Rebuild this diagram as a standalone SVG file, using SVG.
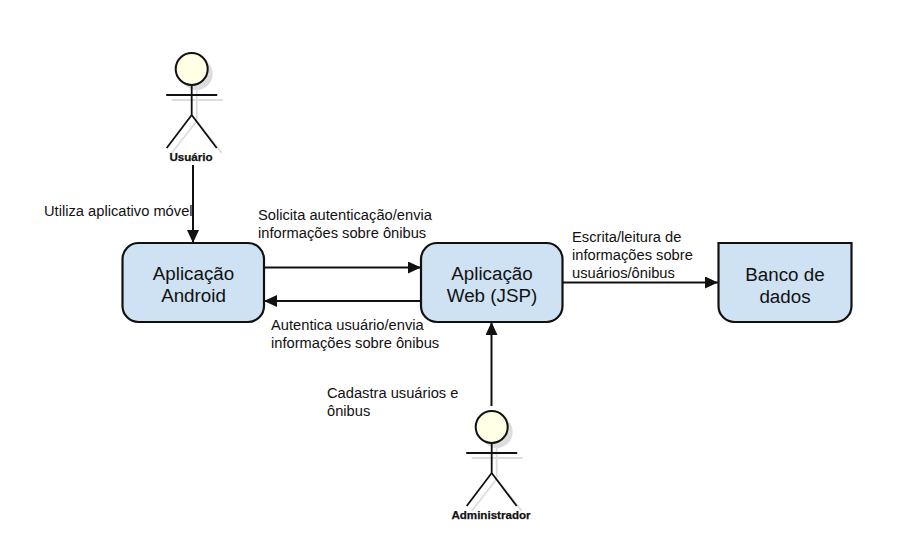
<svg xmlns="http://www.w3.org/2000/svg" width="915" height="537" viewBox="0 0 915 537">
<style>
text{font-family:"Liberation Sans",Arial,sans-serif;fill:#111}
.box{fill:#cfe2f3;stroke:#111;stroke-width:2.2}
.t{font-size:18.8px;text-anchor:middle}
.l{font-size:14.7px}
.a{font-size:11.6px;font-weight:bold;text-anchor:middle;stroke:#111;stroke-width:.25}
.c{fill:none;stroke:#111;stroke-width:2;marker-end:url(#ah)}
.s{fill:none;stroke:#111;stroke-width:1.8}
.sh{fill:none;stroke:#ddd;stroke-width:1.8}
.head{fill:#ffffe6;stroke:#111;stroke-width:2}
</style>
<defs>
<marker id="ah" markerUnits="userSpaceOnUse" markerWidth="14" markerHeight="12" refX="13" refY="6" orient="auto"><path d="M0 0L13 6L0 12Z" fill="#111"/></marker>
<g id="actor">
<circle cx="5" cy="5" r="16" fill="#ddd"/>
<path class="sh" d="M-20 31H31M5 20V52M5 52L-20 84M5 52L30 84"/>
<circle class="head" r="16"/>
<path class="s" d="M-25.500 26H25.500M0 16V46M0 46L-25 79M0 46L25 79"/>
</g>
</defs>
<g id="connectors">
<path class="c" d="M193 165V243"/>
<path class="c" d="M264 267.500H421"/>
<path class="c" d="M421 301H264"/>
<path class="c" d="M563 282.500H718"/>
<path class="c" d="M491.500 406V322"/>
</g>
<g id="usuario"><use href="#actor" x="191.700" y="69"/><text class="a" x="191" y="161">Usuário</text></g>
<g id="administrador"><use href="#actor" x="491.700" y="427"/><text class="a" x="491" y="519">Administrador</text></g>
<g id="android"><rect class="box" x="122.500" y="243" width="141.500" height="79" rx="16"/><text class="t" x="193.500" y="280">Aplicação</text><text class="t" x="193.500" y="302">Android</text></g>
<g id="web"><rect class="box" x="421" y="243" width="141.500" height="79" rx="16"/><text class="t" x="492" y="280">Aplicação</text><text class="t" x="492" y="302">Web (JSP)</text></g>
<g id="banco"><path class="box" d="M718.500 243H851.500V306A16 16 0 0 1 835.500 322H734.500A16 16 0 0 1 718.500 306Z"/><text class="t" x="785" y="281">Banco de</text><text class="t" x="785" y="303">dados</text></g>
<g id="labels">
<text class="l" x="44" y="216">Utiliza aplicativo móvel</text>
<text class="l" x="258" y="220">Solicita autenticação/envia</text>
<text class="l" x="258" y="238">informações sobre ônibus</text>
<text class="l" x="271" y="330">Autentica usuário/envia</text>
<text class="l" x="271" y="348">informações sobre ônibus</text>
<text class="l" x="572" y="242">Escrita/leitura de</text>
<text class="l" x="572" y="260">informações sobre</text>
<text class="l" x="572" y="278">usuários/ônibus</text>
<text class="l" x="327" y="398">Cadastra usuários e</text>
<text class="l" x="327" y="416">ônibus</text>
</g>
</svg>
